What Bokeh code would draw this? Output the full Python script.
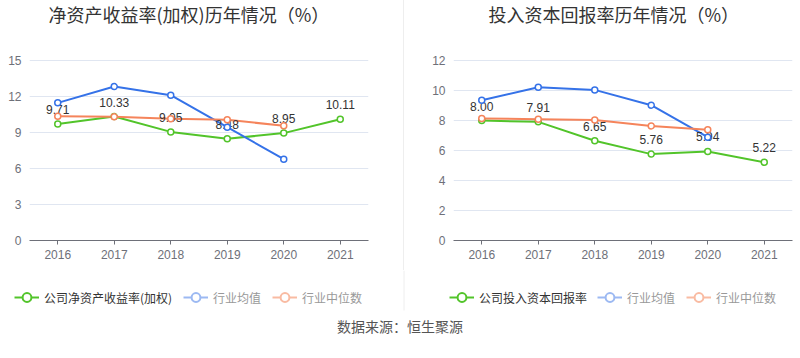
from bokeh.plotting import figure
from bokeh.models import (FactorRange, Range1d, FixedTicker, Label, Legend, LegendItem, Div)
from bokeh.layouts import row, column
from bokeh.core.properties import value
from bokeh.embed import file_html
from bokeh.resources import INLINE

# ---------------- data ----------------
years = ["2016", "2017", "2018", "2019", "2020", "2021"]
years_ind = ["2016", "2017", "2018", "2019", "2020"]

roe_company = [9.71, 10.33, 9.05, 8.48, 8.95, 10.11]
roe_mean = [11.47, 12.83, 12.11, 9.44, 6.78]
roe_median = [10.36, 10.31, 10.14, 10.06, 9.56]
roe_ticks = [0, 3, 6, 9, 12, 15]

roic_company = [8.00, 7.91, 6.65, 5.76, 5.94, 5.22]
roic_mean = [9.35, 10.22, 10.04, 9.02, 6.89]
roic_median = [8.13, 8.09, 8.04, 7.64, 7.38]
roic_ticks = [0, 2, 4, 6, 8, 10, 12]

title_roe = "净资产收益率(加权)历年情况（%）"
title_roic = "投入资本回报率历年情况（%）"
legend_roe = ["公司净资产收益率(加权)", "行业均值", "行业中位数"]
legend_roic = ["公司投入资本回报率", "行业均值", "行业中位数"]
source_text = "数据来源：恒生聚源"

# ---------------- style ----------------
GREEN = "#52c42a"
BLUE = "#3572e8"
ORANGE = "#f5845b"
LBLUE = "#9cb9f2"
LORANGE = "#f9bba2"
AXIS = "#6e7079"
GRID = "#e0e6f1"
CJK = "Noto Sans CJK SC"
LAT = "Liberation Sans"

TOP_H = 270      # height of the chart row
PLOT_TOP = 60    # pixel y of the top tick
PLOT_BOT = 240   # pixel y of value 0


def make_chart(width, border_left, border_right, ticks, company, mean, median,
               title, title_x):
    px_per_unit = (PLOT_BOT - PLOT_TOP) / (ticks[-1] - ticks[0])
    y_end = ticks[-1] + PLOT_TOP / px_per_unit   # frame extends to the top of the canvas
    p = figure(width=width, height=TOP_H, output_backend="svg", toolbar_location=None,
               x_range=FactorRange(factors=years, range_padding=0),
               y_range=Range1d(ticks[0], y_end),
               min_border_left=border_left, min_border_right=border_right,
               min_border_top=0, min_border_bottom=TOP_H - PLOT_BOT)
    p.outline_line_color = None
    p.background_fill_color = "white"
    p.border_fill_color = "white"
    p.xgrid.grid_line_color = None
    p.ygrid.grid_line_color = GRID
    p.ygrid.grid_line_width = 1
    p.ygrid.ticker = FixedTicker(ticks=ticks)

    p.yaxis.ticker = FixedTicker(ticks=ticks)
    p.yaxis.axis_line_color = None
    p.yaxis.major_tick_line_color = None
    p.yaxis.major_tick_in = 0
    p.yaxis.major_tick_out = 0
    p.yaxis.minor_tick_line_color = None
    p.yaxis.major_label_standoff = 8
    p.yaxis.major_label_text_color = AXIS
    p.yaxis.major_label_text_font = LAT
    p.yaxis.major_label_text_font_size = "12px"

    p.xaxis.axis_line_color = AXIS
    p.xaxis.major_tick_line_color = AXIS
    p.xaxis.major_tick_in = 0
    p.xaxis.major_tick_out = 4
    p.xaxis.minor_tick_line_color = None
    p.xaxis.major_label_standoff = 5
    p.xaxis.major_label_text_color = AXIS
    p.xaxis.major_label_text_font = LAT
    p.xaxis.major_label_text_font_size = "12px"

    # lines first
    p.line(years, company, line_color=GREEN, line_width=2)
    p.line(years_ind, mean, line_color=BLUE, line_width=2)
    p.line(years_ind, median, line_color=ORANGE, line_width=2)
    # value labels of the company series (above the lines)
    p.text(years, company, text=["%.2f" % v for v in company],
           text_align="center", text_baseline="alphabetic", y_offset=-14.5,
           text_font=value(LAT), text_font_size="12px", text_color="#333333")
    # markers on top
    p.scatter(years, company, marker="circle", size=6, line_color=GREEN,
              fill_color="white", line_width=1.5)
    p.scatter(years_ind, mean, marker="circle", size=6, line_color=BLUE,
              fill_color="white", line_width=1.5)
    p.scatter(years_ind, median, marker="circle", size=6, line_color=ORANGE,
              fill_color="white", line_width=1.5)

    # title (inside the frame, which reaches the top of the canvas)
    p.add_layout(Label(x=title_x, y=PLOT_BOT - 13.5, x_units="screen", y_units="screen",
                       text=title, text_font=CJK, text_font_size="18px",
                       text_color="#333333", text_baseline="middle", text_align="left"))
    return p


left = make_chart(403, 29, 35, roe_ticks, roe_company, roe_mean, roe_median,
                  title_roe, 48 - 29)
right = make_chart(396, 49, 8, roic_ticks, roic_company, roic_mean, roic_median,
                   title_roic, 488 - 453)

divider = Div(width=1, height=TOP_H, margin=(0, 0, 0, 0),
              styles={"background-color": "#eeeeee"})

# ---------------- bottom strip: legends, divider end, source ----------------
BOT_H = 358 - TOP_H
bottom = figure(width=800, height=BOT_H, output_backend="svg", toolbar_location=None,
                x_range=Range1d(0, 800), y_range=Range1d(BOT_H, 0),
                min_border=0)
bottom.axis.visible = False
bottom.grid.visible = False
bottom.outline_line_color = None
bottom.background_fill_color = "white"
bottom.border_fill_color = "white"

# continuation of the vertical divider (down to y=310)
bottom.segment(x0=[403.5], y0=[0], x1=[403.5], y1=[310 - TOP_H],
               line_color="#eeeeee", line_width=1)

icon_colors = [GREEN, LBLUE, LORANGE]
text_colors = ["#333333", "#999999", "#999999"]
legend_y = 297 - TOP_H          # centre of the legend row, from strip top
glyph_h = 22
loc_y = BOT_H - legend_y - glyph_h / 2
OFF = [-50]   # legend-only renderers sit outside the visible range
for labels, xs in ((legend_roe, [14, 183, 272]), (legend_roic, [449, 597, 686])):
    for lab, lx, ic, tc in zip(labels, xs, icon_colors, text_colors):
        lr = bottom.line(OFF, OFF, line_color=ic, line_width=2)
        sr = bottom.scatter(OFF, OFF, marker="circle", line_color=ic, fill_color="white",
                            line_width=2)
        leg = Legend(items=[LegendItem(label=lab, renderers=[lr, sr])],
                     location=(lx, loc_y), orientation="horizontal",
                     padding=0, margin=0, spacing=0,
                     glyph_width=25, glyph_height=glyph_h, label_standoff=5,
                     label_height=14, label_text_font=CJK,
                     label_text_font_size="12px", label_text_color=tc,
                     background_fill_alpha=0, border_line_alpha=0)
        bottom.add_layout(leg)

bottom.add_layout(Label(x=399.5, y=BOT_H - (325 - TOP_H), x_units="screen", y_units="screen",
                        text=source_text, text_font=CJK, text_font_size="14px",
                        text_color="#555555", text_align="center",
                        text_baseline="middle"))

layout = column(row(left, divider, right, spacing=0), bottom, spacing=0)

open("out.html", "w").write(file_html(layout, INLINE))
